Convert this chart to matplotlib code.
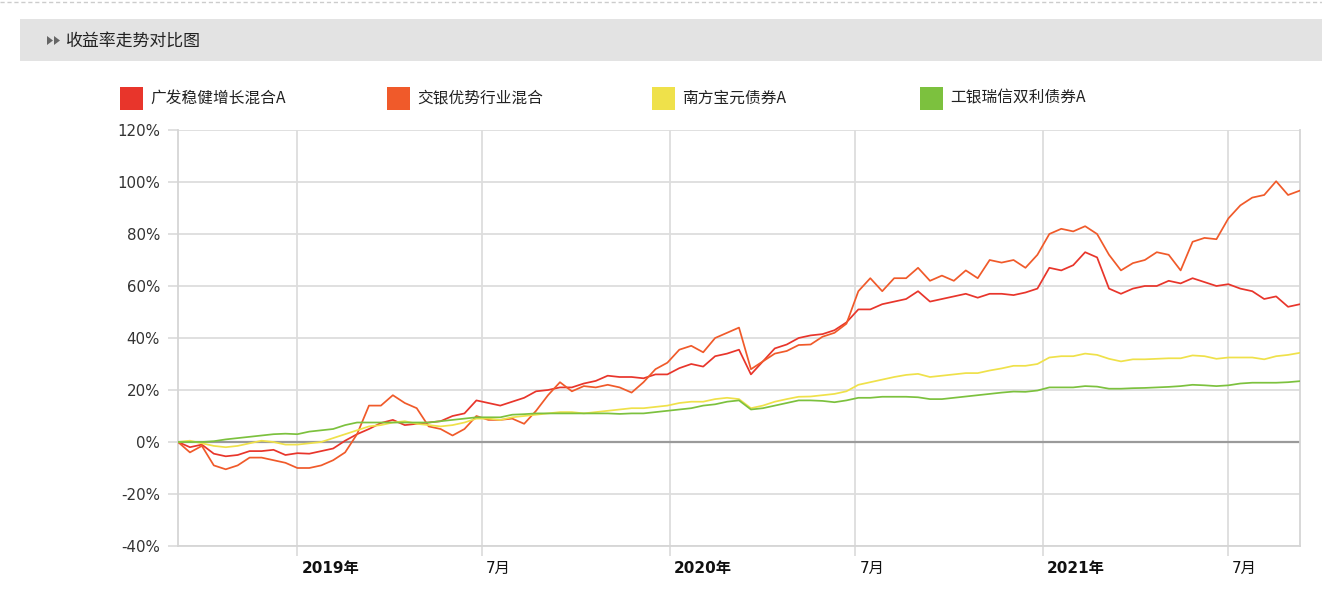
import matplotlib
matplotlib.use("Agg")
import matplotlib.pyplot as plt
import matplotlib.transforms as mtransforms
from matplotlib.patches import Rectangle, Polygon
import pandas as pd

plt.rcParams['font.family'] = ['DejaVu Sans', 'Noto Sans CJK SC']

# ---------------- data ----------------
start_date = "2018-09-06"
end_date = "2021-09-10"
n_points = 95

series_names = ["广发稳健增长混合A", "交银优势行业混合", "南方宝元债券A", "工银瑞信双利债券A"]
series_colors = ["#e8352b", "#f05a2a", "#efe14a", "#7cc13e"]

gf_values = [0, -2, -1, -4.5, -5.5, -5, -3.5, -3.5, -3, -5,
             -4.3, -4.5, -3.5, -2.5, 0.5, 3, 5, 7.3, 8.5, 6.5,
             7, 7.5, 8, 10, 11, 16, 15, 14, 15.5, 17,
             19.5, 20, 21, 21, 22.5, 23.5, 25.5, 25, 25, 24.5,
             26, 26, 28.4, 30, 29, 33, 34, 35.5, 26, 31,
             36, 37.5, 40, 41, 41.5, 43, 46, 51, 51, 53,
             54, 55, 58, 54, 55, 56, 57, 55.5, 57, 57,
             56.5, 57.5, 59, 67, 66, 68, 73, 71, 59, 57,
             59, 60, 60, 62, 61, 63, 61.5, 60, 60.7, 59,
             58, 55, 56, 52, 53]

jy_values = [0, -4, -1.5, -9, -10.5, -9, -6, -6, -7, -8,
             -10, -10, -9, -7, -4, 3, 14, 14, 18, 15,
             13, 6, 5, 2.5, 5, 10, 8.5, 8.5, 9, 7,
             12, 18, 23, 19.5, 21.5, 21, 22, 21, 19, 23,
             28, 30.5, 35.5, 37, 34.5, 40, 42, 44, 28, 31,
             34, 35, 37.3, 37.5, 40.5, 42, 45.5, 58, 63, 58,
             63, 63, 67, 62, 64, 62, 66, 63, 70, 69,
             70, 67, 72, 80, 82, 81, 83, 80, 72, 66,
             68.8, 70, 73, 72, 66, 77, 78.5, 78, 86, 91,
             94, 95, 100.3, 95, 96.7]

nf_values = [0, 0.5, -0.5, -1.5, -2, -1.5, -0.5, 0.5, 0, -1,
             -1, -0.5, 0, 1.5, 3, 4.5, 6, 6.5, 7.5, 8,
             7, 6.5, 6, 6.5, 7.5, 9, 9, 8.5, 9.5, 10,
             10.5, 11, 11.5, 11.5, 11, 11.5, 12, 12.5, 13, 13,
             13.5, 14, 15, 15.5, 15.5, 16.5, 17, 16.5, 13, 14,
             15.5, 16.5, 17.4, 17.5, 18, 18.5, 19.5, 22, 23, 24,
             25, 25.8, 26.2, 25, 25.5, 26, 26.5, 26.5, 27.5, 28.3,
             29.3, 29.3, 30, 32.5, 33, 33, 34, 33.5, 32, 31,
             31.8, 31.8, 32, 32.2, 32.2, 33.3, 33, 32, 32.5, 32.5,
             32.5, 31.8, 33, 33.5, 34.3]

gy_values = [0, 0, 0, 0.3, 1, 1.5, 2, 2.5, 3, 3.2,
             3, 4, 4.5, 5, 6.5, 7.5, 7.5, 7.5, 7.5, 7.5,
             7.5, 7.5, 8, 8.5, 9, 9.5, 9.5, 9.5, 10.5, 10.7,
             11, 11, 11, 11, 11, 11, 11, 10.8, 11, 11,
             11.5, 12, 12.5, 13, 14, 14.5, 15.5, 16, 12.5, 13,
             14, 15, 16, 16, 15.8, 15.3, 16, 17, 17, 17.4,
             17.4, 17.4, 17.2, 16.5, 16.5, 17, 17.5, 18, 18.5, 19,
             19.4, 19.3, 19.8, 21, 21, 21, 21.5, 21.3, 20.5, 20.5,
             20.7, 20.8, 21, 21.2, 21.5, 22, 21.8, 21.5, 21.8, 22.5,
             22.8, 22.8, 22.8, 23, 23.4]

y_ticks = [-40, -20, 0, 20, 40, 60, 80, 100, 120]
x_tick_dates = ["2019-01-01", "2019-07-01", "2020-01-01", "2020-07-01", "2021-01-01", "2021-07-01"]
x_tick_labels = ["2019年", "7月", "2020年", "7月", "2021年", "7月"]
x_tick_bold = [True, False, True, False, True, False]

title_text = "收益率走势对比图"

# ---------------- figure ----------------
W, H = 1322, 590
fig = plt.figure(figsize=(W / 100, H / 100), dpi=100)
fig.patch.set_facecolor("white")

def fx(px):
    return px / W

def fy(py):
    return 1 - py / H

cjk = ["Noto Sans CJK SC", "DejaVu Sans"]

# top dashed border
fig.add_artist(plt.Line2D([0, 1], [fy(2), fy(2)], transform=fig.transFigure,
                          color="#cccccc", lw=1, ls=(0, (3, 2))))
# header bar
fig.add_artist(Rectangle((fx(20), fy(61)), fx(1322 - 20), (61 - 19) / H,
                         transform=fig.transFigure, facecolor="#e3e3e3", edgecolor="none"))
# icon (two small triangles)
for x0 in (47, 54):
    fig.add_artist(Polygon([(fx(x0), fy(36)), (fx(x0), fy(45)), (fx(x0 + 6), fy(40.5))],
                           closed=True, transform=fig.transFigure,
                           facecolor="#666666", edgecolor="none"))
fig.text(fx(66), fy(41), title_text, fontsize=12.2, color="#222222",
         va="center", ha="left", family=cjk)

# legend
legend_x = [120, 387, 652, 920]
for name, color, lx in zip(series_names, series_colors, legend_x):
    fig.add_artist(Rectangle((fx(lx), fy(110)), 23 / W, 23 / H,
                             transform=fig.transFigure, facecolor=color, edgecolor="none"))
    fig.text(fx(lx + 30), fy(98), name, fontsize=11.3, color="#222222",
             va="center", ha="left", family=cjk)

# axes
ax = fig.add_axes([fx(178), fy(546), (1300 - 178) / W, (546 - 130) / H])
dates = pd.date_range(start_date, end_date, periods=n_points)

ax.set_ylim(-40, 120)
ax.set_xlim(pd.Timestamp(start_date), pd.Timestamp(end_date))

ax.set_yticks(y_ticks)
ax.set_yticklabels([f"{v}%" for v in y_ticks])
ax.grid(axis="y", color="#dddddd", lw=1.3)
tick_dates = [pd.Timestamp(d) for d in x_tick_dates]
ax.set_xticks(tick_dates)
ax.set_xticklabels(x_tick_labels)
ax.grid(axis="x", color="#dddddd", lw=1.3)
ax.set_axisbelow(True)

ax.axhline(0, color="#9a9a9a", lw=1.6, zorder=1)

for vals, color in zip([gf_values, jy_values, nf_values, gy_values], series_colors):
    ax.plot(dates, vals, color=color, lw=1.25, zorder=3)

ax.spines["top"].set_visible(False)
for s in ["left", "right", "bottom"]:
    ax.spines[s].set_color("#d5d5d5")
    ax.spines[s].set_linewidth(1.3)

ax.tick_params(axis="y", length=7, width=1.3, color="#dddddd", pad=6,
               labelsize=10.8, labelcolor="#333333")
ax.tick_params(axis="x", length=7, width=1.3, color="#dddddd", pad=4,
               labelsize=11, labelcolor="#111111")
shift = mtransforms.ScaledTranslation(4 / 100, 0, fig.dpi_scale_trans)
for lbl, bold in zip(ax.get_xticklabels(), x_tick_bold):
    lbl.set_horizontalalignment("left")
    lbl.set_fontweight("bold" if bold else "normal")
    lbl.set_family(["DejaVu Sans", "Noto Sans CJK SC"])
    lbl.set_transform(lbl.get_transform() + shift)

fig.savefig("out.png", dpi=100, facecolor="white")
